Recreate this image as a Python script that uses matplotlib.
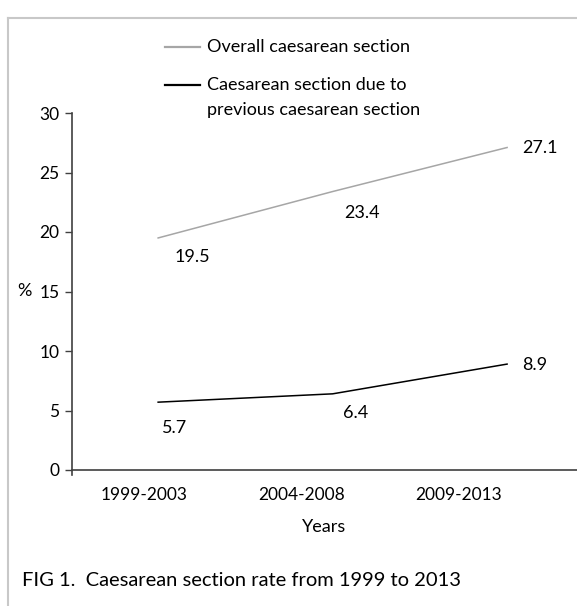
import matplotlib
matplotlib.use("Agg")
import matplotlib.pyplot as plt
from matplotlib.lines import Line2D
import numpy as np

plt.rcParams['font.family'] = ['Lato', 'DejaVu Sans']

periods = ['1999-2003', '2004-2008', '2009-2013']
overall = [19.5, 23.4, 27.1]
previous = [5.7, 6.4, 8.9]
series_names = ['Overall caesarean section',
                'Caesarean section due to\nprevious caesarean section']
caption = 'FIG 1.  Caesarean section rate from 1999 to 2013'

W, H = 577, 606
fig = plt.figure(figsize=(W / 100, H / 100), dpi=100)

# axes box in pixel terms: y axis at x=72, x axis at y=470, 30 at y=113
ax = fig.add_axes([72 / W, (H - 470) / H, (W - 72) / W, (470 - 113) / H])

# the lines sit a bit to the right of the category labels in the original
idx = np.arange(len(periods))
xline = idx * 1.108 + 0.09

ax.plot(xline, overall, color='#a6a6a6', lw=1.1)
ax.plot(xline, previous, color='black', lw=1.1)

fs = 13
fs_tick = 12.5
offs_over = [(34, -19), (29, -21), (33, 0)]
offs_prev = [(16, -26), (23, -19), (28, -1)]
for x, v, o in zip(xline, overall, offs_over):
    ax.annotate('{:.1f}'.format(v), xy=(x, v), xytext=o, textcoords='offset pixels',
                ha='center', va='center', fontsize=fs)
for x, v, o in zip(xline, previous, offs_prev):
    ax.annotate('{:.1f}'.format(v), xy=(x, v), xytext=o, textcoords='offset pixels',
                ha='center', va='center', fontsize=fs)

ax.set_xlim(-0.457, 2.75)
ax.set_ylim(0, 30)
ax.set_yticks([0, 5, 10, 15, 20, 25, 30])
ax.set_xticks(idx)
ax.set_xticklabels(periods)
ax.tick_params(axis='x', length=0, pad=12, labelsize=fs_tick)
ax.tick_params(axis='y', length=5, width=1, pad=4, labelsize=fs_tick, color='#404040')
for s in ['top', 'right']:
    ax.spines[s].set_visible(False)
for s in ['left', 'bottom']:
    ax.spines[s].set_color('#404040')
    ax.spines[s].set_linewidth(1.2)
ax.spines['left'].set_bounds(-0.4, 30)

ax.set_ylabel('%', rotation=0, fontsize=fs, va='center')
ax.yaxis.set_label_coords(-0.095, 0.5)
ax.set_xlabel('Years', fontsize=fs, labelpad=12)

# legend drawn by hand
fig.add_artist(Line2D([165 / W, 200 / W], [1 - 47 / H, 1 - 47 / H], color='#a6a6a6', lw=1.6))
fig.add_artist(Line2D([165 / W, 200 / W], [1 - 85 / H, 1 - 85 / H], color='black', lw=1.6))
fig.text(207 / W, 1 - 47 / H, series_names[0], fontsize=fs, va='center')
fig.text(207 / W, 1 - 77 / H, series_names[1], fontsize=fs, va='top', linespacing=1.7)

fig.text(22 / W, 1 - 580 / H, caption, fontsize=14.5, va='center')

# light frame around the figure
fig.add_artist(Line2D([8 / W, 1], [1 - 18 / H, 1 - 18 / H], color='#c8c8c8', lw=1.5))
fig.add_artist(Line2D([8 / W, 8 / W], [0, 1 - 18 / H], color='#c8c8c8', lw=1.5))

fig.savefig('out.png', dpi=100)
